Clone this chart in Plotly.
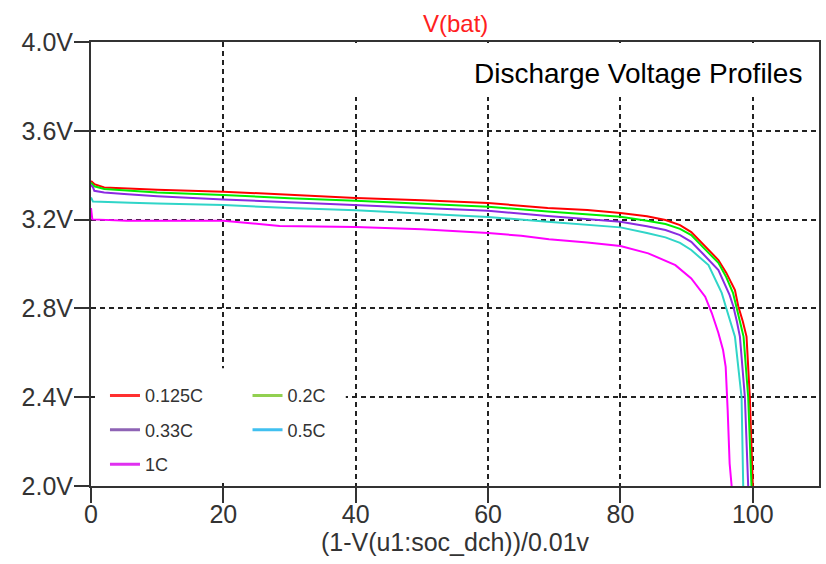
import plotly.graph_objects as go

# Discharge curves: state of discharge (%) vs battery voltage (V)
x_0125 = [0, 0.5, 2, 10, 20, 30, 40, 50, 60, 69, 75, 80, 84, 86.8, 89, 90.7,
          92.5, 94.8, 96, 97.3, 97.8, 98.5, 99.05, 99.55, 100.0]
v_0125 = [3.374, 3.36, 3.345, 3.335, 3.326, 3.31, 3.297, 3.287, 3.275, 3.252,
          3.243, 3.23, 3.215, 3.198, 3.175, 3.144, 3.09, 3.018, 2.96, 2.883,
          2.81, 2.74, 2.673, 2.40, 2.0]

x_02 = [0, 0.5, 2, 10, 20, 30, 40, 50, 60, 69, 75, 80, 84, 86.8, 89, 90.7,
        92.5, 94.8, 96, 97, 97.5, 98.1, 98.6, 99.3, 99.8]
v_02 = [3.366, 3.35, 3.338, 3.322, 3.311, 3.296, 3.285, 3.272, 3.258, 3.236,
        3.225, 3.213, 3.195, 3.18, 3.158, 3.13, 3.075, 3.005, 2.94, 2.87,
        2.81, 2.74, 2.673, 2.40, 2.0]

x_033 = [0, 0.3, 0.5, 2, 5, 10, 20, 30, 40, 50, 60, 69, 75, 80, 84, 86.8, 89,
         90.7, 92.5, 94.8, 96.5, 97.05, 97.6, 98.05, 98.8, 99.3]
v_033 = [3.356, 3.345, 3.33, 3.322, 3.315, 3.305, 3.291, 3.278, 3.268, 3.255,
         3.24, 3.216, 3.203, 3.19, 3.17, 3.153, 3.13, 3.10, 3.045, 2.973, 2.86,
         2.81, 2.74, 2.673, 2.40, 2.0]

x_05 = [0, 0.3, 6, 10, 20, 30, 40, 50, 60, 69, 75, 80, 84, 86.8, 89, 90.7,
        93.3, 95.3, 95.9, 96.6, 97.3, 98.3, 98.55]
v_05 = [3.30, 3.281, 3.276, 3.272, 3.266, 3.252, 3.242, 3.228, 3.212, 3.19,
        3.178, 3.165, 3.14, 3.12, 3.095, 3.063, 2.995, 2.87, 2.81, 2.74, 2.673,
        2.40, 2.0]

x_1 = [0, 0.2, 5.4, 20, 28.5, 40, 50, 60, 65, 69.2, 75, 80, 84.2, 88.3, 90.7,
       92.8, 93.8, 94.8, 95.5, 95.9, 96.2, 96.5, 96.8]
v_1 = [3.252, 3.201, 3.195, 3.195, 3.171, 3.167, 3.156, 3.14, 3.127, 3.111,
       3.097, 3.081, 3.048, 2.995, 2.935, 2.853, 2.779, 2.689, 2.613, 2.537,
       2.342, 2.10, 2.0]

labels = ["0.125C", "0.2C", "0.33C", "0.5C", "1C"]
curve_colors = ["#ff0000", "#00ee00", "#8a2be2", "#30d5c8", "#ff00ff"]
legend_colors = ["#ff3030", "#92d050", "#8e63b5", "#40c0f0", "#e030f0"]
legend_slot = ["legend", "legend2", "legend", "legend2", "legend"]

x_ticks = [0, 20, 40, 60, 80, 100]
y_ticks = [2.0, 2.4, 2.8, 3.2, 3.6, 4.0]
y_tick_text = [f"{v:.1f}V" for v in y_ticks]

series = [(x_0125, v_0125), (x_02, v_02), (x_033, v_033), (x_05, v_05), (x_1, v_1)]

fig = go.Figure()
for (xs, vs), name, col in zip(series, labels, curve_colors):
    fig.add_trace(go.Scatter(x=xs, y=vs, mode="lines", name=name,
                             line=dict(color=col, width=2), showlegend=False))

# legend keys drawn in their own (lighter) colours
for name, col, slot in zip(labels, legend_colors, legend_slot):
    fig.add_trace(go.Scatter(x=[None], y=[None], mode="lines", name=name,
                             legendgroup=name, legend=slot,
                             line=dict(color=col, width=3)))

axis_col = "#333333"
base_font = "Liberation Sans, Arial, sans-serif"
tick_font = dict(family=base_font, size=25, color=axis_col)
legend_font = dict(family=base_font, size=18, color=axis_col)

fig.update_layout(
    width=826, height=564,
    margin=dict(l=91, r=5, t=42, b=78),
    plot_bgcolor="white", paper_bgcolor="white",
    xaxis=dict(range=[0, 110], tickvals=x_ticks, ticks="outside", ticklen=15,
               tickwidth=2, tickcolor=axis_col, showline=True, linecolor=axis_col,
               linewidth=2, mirror=True, showgrid=True, gridcolor="#222222",
               gridwidth=1.5, griddash="5px,4px", zeroline=False,
               tickfont=tick_font, ticklabelstandoff=-10,
               title=dict(text="(1-V(u1:soc_dch))/0.01v", standoff=6,
                          font=dict(family=base_font, size=25, color=axis_col))),
    yaxis=dict(range=[2.0, 4.0], tickvals=y_ticks, ticktext=y_tick_text,
               ticks="outside", ticklen=15, tickwidth=2, tickcolor=axis_col,
               showline=True, linecolor=axis_col, linewidth=2, mirror=True,
               showgrid=True, gridcolor="#222222", gridwidth=1.5,
               griddash="5px,4px", zeroline=False, tickfont=tick_font,
               ticklabelstandoff=-4),
    legend=dict(x=0.0192, y=0.245, xanchor="left", yanchor="top",
                bgcolor="rgba(0,0,0,0)", traceorder="grouped", tracegroupgap=8,
                font=legend_font),
    legend2=dict(x=0.215, y=0.245, xanchor="left", yanchor="top",
                 bgcolor="rgba(0,0,0,0)", traceorder="grouped", tracegroupgap=8,
                 font=legend_font),
    shapes=[
        # white panels (between grid and traces) behind the legend and heading
        dict(type="rect", xref="x", yref="y", x0=0.6, x1=38.5, y0=2.02, y1=2.53,
             fillcolor="white", line=dict(width=0), layer="between"),
        dict(type="rect", xref="x", yref="y", x0=35, x1=109.6, y0=3.752, y1=3.995,
             fillcolor="white", line=dict(width=0), layer="between"),
    ],
    annotations=[
        dict(text="V(bat)", x=0.5, y=1.0, xref="paper", yref="paper",
             xanchor="center", yanchor="bottom", yshift=3, showarrow=False,
             font=dict(family=base_font, size=24, color="#ff2020")),
        dict(text="Discharge Voltage Profiles", x=0.979, y=0.928, xref="paper",
             yref="paper", xanchor="right", yanchor="middle", showarrow=False,
             font=dict(family=base_font, size=28, color="black")),
    ],
)

fig.write_html("out.html")
